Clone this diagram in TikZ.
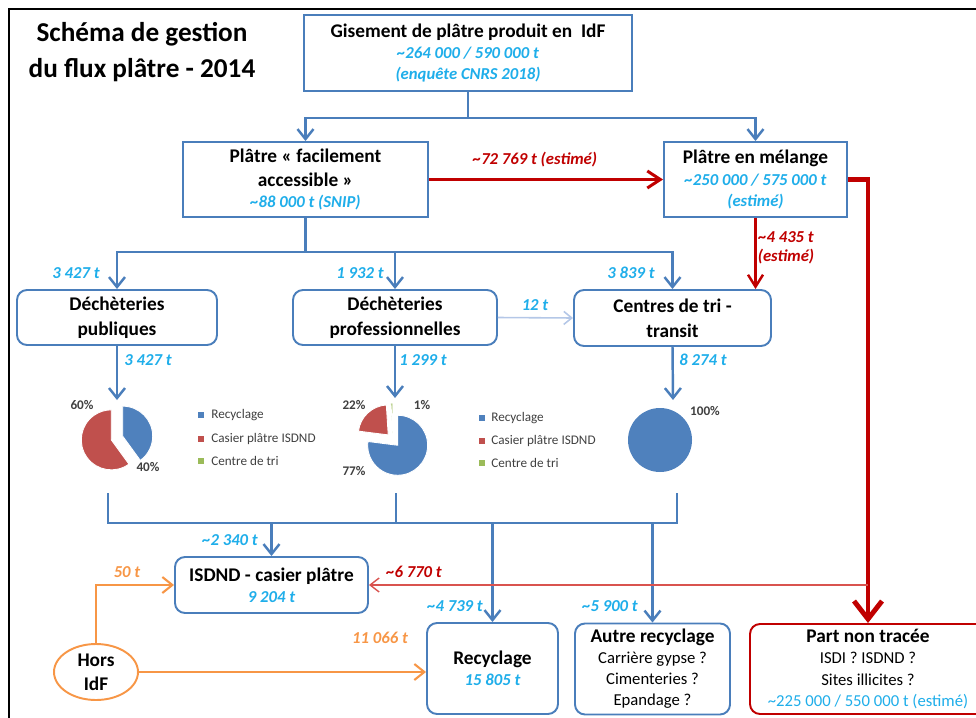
\documentclass[tikz,border=0pt]{standalone}
\usepackage{fontspec}
\setmainfont{Carlito}
\usetikzlibrary{arrows.meta,shapes.geometric}

\definecolor{bordo}{HTML}{4A7EBB}
\definecolor{azzurro}{HTML}{1FAEEA}
\definecolor{rosso}{HTML}{C00000}
\definecolor{rossochiaro}{HTML}{D9534F}
\definecolor{arancio}{HTML}{F79646}
\definecolor{celeste}{HTML}{B4C7E7}
\definecolor{pblu}{HTML}{4F81BD}
\definecolor{prosso}{HTML}{C0504D}
\definecolor{pverde}{HTML}{9BBB59}
\definecolor{grigio}{HTML}{404040}

\newcommand{\circa}{\textasciitilde}
\newcommand{\blu}{\color{azzurro}\fontsize{9.5}{12}\selectfont\itshape}
\newcommand{\sottile}{\fontsize{9.5}{12}\selectfont\mdseries}

\begin{document}
\begin{tikzpicture}[x=0.2mm, y=-0.2mm,
	scatola/.style={draw=bordo, line width=1.1pt, fill=white, inner sep=0pt, align=center,
		font=\fontsize{11}{12}\selectfont\bfseries},
	tonda/.style={scatola, rounded corners=2mm},
	linea/.style={draw=bordo, line width=1.4pt},
	freccia/.style={linea, -{Straight Barb[length=2mm,width=3.2mm]}},
	chiara/.style={draw=celeste, line width=0.9pt, -{Straight Barb[length=1.6mm,width=2.6mm]}},
	rossa/.style={draw=rosso, line width=1.7pt, -{Straight Barb[length=2.6mm,width=3.4mm]}},
	rossamedia/.style={draw=rosso, line width=1.4pt, -{Straight Barb[length=2.4mm,width=3mm]}},
	rossagrossa/.style={draw=rosso, line width=2.8pt, -{Straight Barb[length=3.6mm,width=5.6mm]}},
	rossasottile/.style={draw=rossochiaro, line width=0.8pt, -{Straight Barb[length=1.8mm,width=2.8mm]}},
	arancia/.style={draw=arancio, line width=1.2pt, -{Straight Barb[length=2mm,width=3.2mm]}},
	num/.style={text=azzurro, inner sep=0pt, font=\fontsize{9.5}{11}\selectfont\bfseries\itshape},
	numr/.style={num, text=rosso, align=center},
	numo/.style={num, text=arancio},
	pct/.style={text=grigio, inner sep=0pt, font=\fontsize{7.5}{9}\selectfont\bfseries},
	leg/.style={text=grigio, inner sep=0pt, anchor=west, font=\fontsize{7.5}{9}\selectfont},
	quad/.style={inner sep=0pt, minimum size=1.1mm},
	fetta/.style={draw=white, line width=0.5pt}]

	\useasboundingbox (0,0) rectangle (976,717);
	\clip (0,0) rectangle (976,717);
	\draw[line width=1.2pt] (9,9) rectangle (1000,740);

	% Titolo
	\node[align=center, inner sep=0pt, font=\fontsize{15.5}{20}\selectfont\bfseries] (tit) at (142,52)
		{Schéma de gestion\\du flux plâtre - 2014};

	% Definisci i nodi
	\node[scatola, minimum width=65.6mm, minimum height=15.2mm] (gis) at (468,53)
		{Gisement de plâtre produit en\ \ IdF\\{\blu\circa264 000 / 590 000 t}\\{\blu(enquête CNRS 2018)}};
	\node[scatola, minimum width=49mm, minimum height=15mm] (fac) at (305.5,179.5)
		{Plâtre « facilement\\[1.5pt]accessible »\\{\blu\circa88 000 t (SNIP)}};
	\node[scatola, minimum width=36.6mm, minimum height=15mm] (mel) at (755.5,179.5)
		{Plâtre en mélange\\{\blu\circa250 000 / 575 000 t}\\{\blu(estimé)}};

	\node[tonda, minimum width=40mm, minimum height=11mm] (pub) at (117,317.5)
		{Déchèteries\\[2pt]publiques};
	\node[tonda, minimum width=40.8mm, minimum height=11mm] (pro) at (395,317.5)
		{Déchèteries\\[2pt]professionnelles};
	\node[tonda, minimum width=39.4mm, minimum height=11.2mm] (tri) at (672.5,318)
		{Centres de tri -\\[2pt]transit};

	\node[tonda, minimum width=38.6mm, minimum height=11.2mm] (isd) at (271.5,585)
		{ISDND - casier plâtre\\{\blu 9 204 t}};
	\node[tonda, minimum width=26.2mm, minimum height=18.2mm] (rec) at (492.5,668.5)
		{Recyclage\\{\blu 15 805 t}};
	\node[tonda, minimum width=31mm, minimum height=18.2mm] (aut) at (652.5,669)
		{Autre recyclage\\{\sottile Carrière gypse ?}\\{\sottile Cimenteries ?}\\{\sottile Epandage ?}};
	\node[tonda, draw=rosso, minimum width=47.2mm, minimum height=18mm] (pnt) at (868,669)
		{Part non tracée\\{\sottile ISDI ? ISDND ?}\\{\sottile Sites illicites ?}\\{\sottile\color{azzurro}\circa225 000 / 550 000 t (estimé)}};
	\node[ellipse, draw=arancio, line width=1.1pt, inner sep=0pt, align=center, minimum width=16.8mm,
		minimum height=11.2mm, font=\fontsize{11}{12}\selectfont\bfseries] (hors) at (96,672)
		{Hors\\[1.5pt]IdF};

	% Punti di raccordo
	\coordinate (j1) at (468,118);
	\coordinate (j2) at (305.5,252);
	\coordinate (p1in) at (117,400);
	\coordinate (p2in) at (395,398);
	\coordinate (p3in) at (673,400);
	\coordinate (p1out) at (108,493);
	\coordinate (p2out) at (396,493);
	\coordinate (p3out) at (677,493);
	\coordinate (b1) at (108,523);
	\coordinate (b3) at (677,523);

	% Collega i nodi
	\draw[linea] (gis.south) -- (j1);
	\draw[freccia] (j1) -| (fac.north);
	\draw[freccia] (j1) -| (mel.north);
	\draw[rossa] (fac.east) -- (mel.west);
	\draw[rossagrossa] (mel.east) -| (pnt.north);
	\draw[rossamedia] (mel.south) -- (mel.south |- tri.north);

	\draw[linea] (fac.south) -- (j2);
	\draw[freccia] (j2) -| (pub.north);
	\draw[freccia] (j2) -| (pro.north);
	\draw[freccia] (j2) -| (tri.north);
	\draw[chiara] (pro.east) -- (tri.west);

	\draw[freccia] (pub.south) -- (p1in);
	\draw[freccia] (pro.south) -- (p2in);
	\draw[freccia] (tri.south) -- (p3in);

	\draw[linea] (p1out) -- (b1) -- (b3) -- (p3out);
	\draw[linea] (p2out) -- (p2out |- b1);
	\draw[freccia] (b1 -| isd.north) -- (isd.north);
	\draw[freccia] (b1 -| rec.north) -- (rec.north);
	\draw[freccia] (b1 -| aut.north) -- (aut.north);

	\draw[rossasottile] (pnt.north |- isd.east) -- (isd.east);
	\draw[arancia] (hors.north) |- (isd.west);
	\draw[arancia] (hors.east) -- (hors.east -| rec.west);

	% Etichette
	\node[numr] (l72769) at (535,160) {\circa72 769 t (estimé)};
	\node[numr, font=\fontsize{9.5}{11}\selectfont\bfseries\itshape] (l4435) at (786,248) {\circa4 435 t\\(estimé)};
	\node[num] (l3427a) at (76,273) {3 427 t};
	\node[num] (l1932) at (360,273) {1 932 t};
	\node[num] (l3839) at (631,273) {3 839 t};
	\node[num] (l12) at (535,305) {12 t};
	\node[num] (l3427b) at (148,360) {3 427 t};
	\node[num] (l1299) at (423,360) {1 299 t};
	\node[num] (l8274) at (703,360) {8 274 t};
	\node[num] (l2340) at (230,540) {\circa2 340 t};
	\node[numr] (l6770) at (414,572) {\circa6 770 t};
	\node[numo] (l50) at (127,572) {50 t};
	\node[num] (l4739) at (455,606) {\circa4 739 t};
	\node[num] (l5900) at (610,606) {\circa5 900 t};
	\node[numo] (l11066) at (380,638) {11 066 t};

	% Torte
	\begin{scope}[shift={(117,438)}, yscale=-1]
		\fill[pblu, fetta] (5.7,1.85) -- ++(90:30) arc[start angle=90, end angle=-54, radius=30] -- cycle;
		\fill[prosso, fetta] (-5.7,-1.85) -- ++(-54:30) arc[start angle=-54, end angle=-270, radius=30] -- cycle;
	\end{scope}
	\begin{scope}[shift={(393,440)}, yscale=-1]
		\fill[pblu, fetta] (4.63,-5.25) -- ++(90:30) arc[start angle=90, end angle=-187.2, radius=30] -- cycle;
		\fill[prosso, fetta] (-4.79,5.1) -- ++(-187.2:30) arc[start angle=-187.2, end angle=-266.4, radius=30] -- cycle;
		\fill[pverde, fetta] (-0.22,7) -- ++(-266.4:30) arc[start angle=-266.4, end angle=-270, radius=30] -- cycle;
	\end{scope}
	\fill[pblu] (660,440) circle[radius=32];

	\node[pct] (t60) at (82,405) {60\%};
	\node[pct] (t40) at (148,467) {40\%};
	\node[pct] (t22) at (354,405) {22\%};
	\node[pct] (t1) at (422,405) {1\%};
	\node[pct] (t77) at (354,471) {77\%};
	\node[pct] (t100) at (705,411) {100\%};

	% Legende
	\node[quad, fill=pblu] (q1a) at (201,415) {};
	\node[quad, fill=prosso] (q1b) at (201,439) {};
	\node[quad, fill=pverde] (q1c) at (201,461) {};
	\node[leg] (e1a) at (211,415) {Recyclage};
	\node[leg] (e1b) at (211,439) {Casier plâtre ISDND};
	\node[leg] (e1c) at (211,461) {Centre de tri};

	\node[quad, fill=pblu] (q2a) at (482,418) {};
	\node[quad, fill=prosso] (q2b) at (482,441) {};
	\node[quad, fill=pverde] (q2c) at (482,463) {};
	\node[leg] (e2a) at (491,418) {Recyclage};
	\node[leg] (e2b) at (491,441) {Casier plâtre ISDND};
	\node[leg] (e2c) at (491,463) {Centre de tri};
\end{tikzpicture}
\end{document}
